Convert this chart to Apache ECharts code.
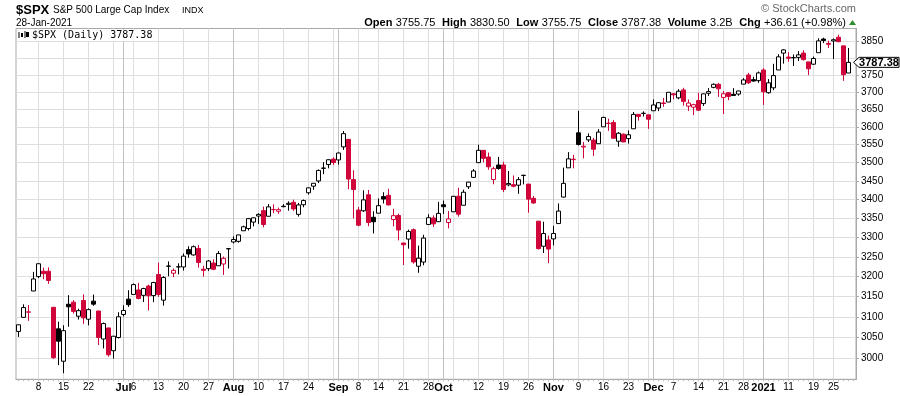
<!DOCTYPE html>
<html><head><meta charset="utf-8">
<script src="https://cdn.jsdelivr.net/npm/echarts@6/dist/echarts.min.js"></script>
<style>html,body{margin:0;padding:0;background:#fff}#c{width:900px;height:396px}</style>
</head><body><div id="c"></div>
<script>
const dates = [
'2020-06-02','2020-06-03','2020-06-04','2020-06-05','2020-06-08','2020-06-09','2020-06-10','2020-06-11','2020-06-12','2020-06-15','2020-06-16','2020-06-17','2020-06-18','2020-06-19','2020-06-22','2020-06-23','2020-06-24','2020-06-25','2020-06-26','2020-06-29','2020-06-30',
'2020-07-01','2020-07-02','2020-07-06','2020-07-07','2020-07-08','2020-07-09','2020-07-10','2020-07-13','2020-07-14','2020-07-15','2020-07-16','2020-07-17','2020-07-20','2020-07-21','2020-07-22','2020-07-23','2020-07-24','2020-07-27','2020-07-28','2020-07-29','2020-07-30','2020-07-31',
'2020-08-03','2020-08-04','2020-08-05','2020-08-06','2020-08-07','2020-08-10','2020-08-11','2020-08-12','2020-08-13','2020-08-14','2020-08-17','2020-08-18','2020-08-19','2020-08-20','2020-08-21','2020-08-24','2020-08-25','2020-08-26','2020-08-27','2020-08-28','2020-08-31',
'2020-09-01','2020-09-02','2020-09-03','2020-09-04','2020-09-08','2020-09-09','2020-09-10','2020-09-11','2020-09-14','2020-09-15','2020-09-16','2020-09-17','2020-09-18','2020-09-21','2020-09-22','2020-09-23','2020-09-24','2020-09-25','2020-09-28','2020-09-29','2020-09-30',
'2020-10-01','2020-10-02','2020-10-05','2020-10-06','2020-10-07','2020-10-08','2020-10-09','2020-10-12','2020-10-13','2020-10-14','2020-10-15','2020-10-16','2020-10-19','2020-10-20','2020-10-21','2020-10-22','2020-10-23','2020-10-26','2020-10-27','2020-10-28','2020-10-29','2020-10-30',
'2020-11-02','2020-11-03','2020-11-04','2020-11-05','2020-11-06','2020-11-09','2020-11-10','2020-11-11','2020-11-12','2020-11-13','2020-11-16','2020-11-17','2020-11-18','2020-11-19','2020-11-20','2020-11-23','2020-11-24','2020-11-25','2020-11-27','2020-11-30',
'2020-12-01','2020-12-02','2020-12-03','2020-12-04','2020-12-07','2020-12-08','2020-12-09','2020-12-10','2020-12-11','2020-12-14','2020-12-15','2020-12-16','2020-12-17','2020-12-18','2020-12-21','2020-12-22','2020-12-23','2020-12-24','2020-12-28','2020-12-29','2020-12-30','2020-12-31',
'2021-01-04','2021-01-05','2021-01-06','2021-01-07','2021-01-08','2021-01-11','2021-01-12','2021-01-13','2021-01-14','2021-01-15','2021-01-19','2021-01-20','2021-01-21','2021-01-22','2021-01-25','2021-01-26','2021-01-27','2021-01-28'
];
const opens = [
3064.78,3098.90,3111.56,3163.84,3199.92,3213.32,3213.42,3123.53,3071.04,2993.76,3131.00,3136.13,3101.64,3140.29,3094.42,3138.70,3114.40,3046.60,3073.20,3018.59,3050.20,
3105.92,3143.64,3155.29,3166.44,3153.07,3176.17,3152.47,3205.08,3141.11,3225.98,3208.36,3224.21,3224.29,3268.52,3254.86,3271.64,3218.58,3219.84,3234.27,3227.22,3231.76,3270.45,
3288.26,3289.92,3317.37,3323.17,3340.05,3356.04,3370.34,3355.46,3372.95,3368.66,3380.86,3387.04,3392.51,3360.48,3386.01,3418.09,3435.95,3449.97,3485.14,3494.69,3509.73,
3507.44,3543.76,3564.74,3453.60,3371.88,3369.82,3412.56,3352.70,3363.56,3407.73,3411.23,3346.86,3357.38,3285.57,3295.75,3320.11,3226.14,3236.66,3333.90,3350.92,3341.21,
3385.87,3338.94,3367.27,3408.74,3384.56,3434.28,3459.67,3500.02,3534.01,3515.47,3453.72,3493.50,3493.66,3439.38,3439.91,3438.50,3464.90,3441.42,3403.15,3342.48,3277.17,3293.59,
3296.20,3336.25,3406.46,3485.74,3508.34,3583.04,3543.26,3563.22,3562.67,3552.57,3600.16,3610.31,3612.09,3559.41,3579.31,3566.82,3594.52,3635.50,3638.55,3634.18,
3645.87,3653.78,3668.28,3670.94,3694.73,3683.05,3705.98,3659.13,3656.08,3675.27,3666.41,3696.25,3713.65,3722.39,3684.28,3698.08,3693.42,3694.03,3723.03,3750.01,3736.19,3733.27,
3764.61,3698.02,3712.20,3764.71,3815.05,3803.14,3801.62,3802.23,3814.98,3788.73,3781.88,3816.22,3857.46,3844.24,3851.68,3862.96,3836.83,3755.75
];
const highs = [
3081.07,3130.94,3128.91,3211.72,3233.13,3222.71,3223.27,3123.53,3088.42,3079.76,3153.45,3141.16,3120.00,3155.53,3120.92,3154.90,3115.01,3086.25,3073.73,3053.89,3111.51,
3128.44,3165.81,3182.59,3184.15,3171.80,3179.78,3186.82,3235.32,3200.95,3238.28,3220.39,3233.52,3258.61,3277.29,3279.32,3279.99,3227.26,3241.43,3243.72,3264.74,3250.92,3272.17,
3302.73,3306.84,3330.77,3351.03,3352.54,3363.29,3381.01,3387.89,3387.24,3378.51,3387.59,3395.06,3399.54,3390.80,3399.96,3432.09,3444.21,3481.07,3501.38,3509.23,3514.77,
3528.03,3588.11,3564.85,3479.15,3379.97,3424.77,3425.55,3368.95,3402.93,3419.48,3428.92,3375.17,3362.27,3285.57,3320.31,3323.35,3278.70,3306.88,3360.74,3357.92,3393.56,
3397.18,3369.10,3409.57,3431.56,3426.26,3447.28,3482.34,3549.85,3534.01,3527.94,3489.08,3515.76,3502.42,3476.93,3464.86,3460.53,3466.46,3441.42,3409.51,3342.48,3341.05,3304.93,
3330.14,3389.49,3486.25,3529.05,3521.58,3645.99,3557.22,3581.16,3569.02,3593.66,3628.51,3623.11,3619.09,3585.22,3581.23,3589.81,3642.31,3635.50,3644.31,3634.18,
3678.45,3670.96,3682.73,3699.20,3697.41,3708.45,3712.39,3678.49,3665.91,3697.61,3695.29,3711.27,3725.12,3726.70,3702.90,3698.26,3711.24,3703.82,3740.51,3756.12,3744.63,3760.20,
3769.99,3737.83,3783.04,3811.55,3826.69,3817.86,3810.78,3820.96,3823.60,3788.73,3804.53,3859.75,3861.45,3852.31,3859.23,3870.90,3836.83,3830.50
];
const lows = [
3051.64,3098.90,3090.41,3163.84,3196.00,3193.11,3181.49,2999.49,2984.47,2965.66,3076.06,3108.03,3093.51,3083.11,3079.39,3127.12,3032.13,3024.01,3004.63,2999.74,3047.83,
3101.17,3124.52,3155.29,3142.93,3136.53,3115.70,3136.22,3149.43,3127.66,3200.76,3198.59,3205.65,3215.16,3247.77,3253.10,3222.66,3200.05,3214.25,3216.17,3227.22,3204.13,3220.26,
3284.53,3286.37,3317.37,3318.14,3328.72,3335.44,3326.44,3355.46,3363.35,3361.64,3379.22,3370.15,3369.66,3354.69,3379.31,3413.13,3425.84,3444.15,3468.35,3484.32,3493.25,
3494.60,3535.23,3427.41,3349.63,3329.27,3366.84,3329.25,3310.47,3363.56,3389.25,3384.45,3328.82,3292.40,3229.10,3270.95,3232.57,3209.45,3228.44,3332.91,3327.54,3340.47,
3361.39,3323.69,3367.27,3354.54,3384.56,3428.15,3458.07,3499.61,3500.86,3480.55,3440.89,3480.45,3419.93,3435.65,3433.06,3415.34,3440.45,3364.86,3388.71,3268.89,3259.82,3233.94,
3279.74,3336.25,3405.17,3485.74,3484.34,3547.48,3511.91,3557.00,3518.58,3552.57,3600.16,3588.68,3567.33,3543.84,3556.85,3552.77,3594.52,3617.76,3629.33,3594.39,
3645.87,3644.84,3657.17,3670.94,3678.88,3678.83,3660.54,3645.18,3633.40,3645.84,3659.62,3688.57,3710.87,3685.84,3636.48,3676.16,3689.28,3689.32,3723.03,3723.31,3730.21,3726.88,
3662.71,3695.07,3705.34,3764.71,3783.60,3789.02,3776.51,3791.50,3792.86,3749.62,3780.37,3816.22,3845.05,3830.41,3797.16,3847.78,3732.48,3755.75
];
const closes = [
3080.82,3122.87,3112.35,3193.93,3232.39,3207.18,3190.14,3002.10,3041.31,3066.59,3124.74,3113.49,3115.34,3097.74,3117.86,3131.29,3050.33,3083.76,3009.05,3053.24,3100.29,
3115.86,3130.01,3179.72,3145.32,3169.94,3152.05,3185.04,3155.22,3197.52,3226.56,3215.57,3224.73,3251.84,3257.30,3276.02,3235.66,3215.63,3239.41,3218.44,3258.44,3246.22,3271.12,
3294.61,3306.51,3327.77,3349.16,3351.28,3360.47,3333.69,3380.35,3373.43,3372.85,3381.99,3389.78,3374.85,3385.51,3397.16,3431.28,3443.62,3478.73,3484.55,3508.01,3500.31,
3526.65,3580.84,3455.06,3426.96,3331.84,3398.96,3339.19,3340.97,3383.54,3401.20,3385.49,3357.01,3319.47,3281.06,3315.57,3236.92,3246.59,3298.46,3351.60,3335.47,3363.00,
3380.80,3348.42,3408.60,3360.97,3419.44,3446.83,3477.14,3534.22,3511.93,3488.67,3483.34,3483.81,3426.92,3443.12,3435.56,3453.49,3465.39,3400.97,3390.68,3271.03,3310.11,3269.96,
3310.24,3369.16,3443.44,3510.45,3509.44,3550.50,3545.53,3572.66,3537.01,3585.15,3626.91,3609.53,3567.79,3581.87,3557.54,3577.59,3635.41,3629.65,3638.35,3621.63,
3662.45,3669.01,3666.72,3699.12,3691.96,3702.25,3672.82,3668.10,3663.46,3647.49,3694.62,3701.17,3722.48,3709.41,3694.92,3687.26,3690.01,3703.06,3735.36,3727.04,3732.04,3756.07,
3700.65,3726.86,3748.14,3803.79,3824.68,3799.61,3801.19,3809.84,3795.54,3768.25,3798.91,3851.85,3853.07,3841.47,3855.36,3849.62,3750.77,3787.38
];
const closeBeforeStart = 3055.73;

const weekLineDates = ['2020-06-08','2020-06-15','2020-06-22','2020-06-29','2020-07-06','2020-07-13','2020-07-20','2020-07-27','2020-08-10','2020-08-17','2020-08-24','2020-08-31','2020-09-08','2020-09-14','2020-09-21','2020-09-28','2020-10-05','2020-10-12','2020-10-19','2020-10-26','2020-11-09','2020-11-16','2020-11-23','2020-11-30','2020-12-07','2020-12-14','2020-12-21','2020-12-28','2021-01-11','2021-01-19','2021-01-25'];
const monthLineDates = ['2020-07-01','2020-08-03','2020-09-01','2020-10-01','2020-11-02','2020-12-01','2021-01-04'];
const tickLabelDates = ['2020-06-08','2020-06-15','2020-06-22','2020-07-01','2020-07-06','2020-07-13','2020-07-20','2020-07-27','2020-08-03','2020-08-10','2020-08-17','2020-08-24','2020-09-01','2020-09-08','2020-09-14','2020-09-21','2020-09-28','2020-10-01','2020-10-12','2020-10-19','2020-10-26','2020-11-02','2020-11-09','2020-11-16','2020-11-23','2020-12-01','2020-12-07','2020-12-14','2020-12-21','2020-12-28','2021-01-04','2021-01-11','2021-01-19','2021-01-25'];
const tickLabelTexts = ['8','15','22','Jul','6','13','20','27','Aug','10','17','24','Sep','8','14','21','28','Oct','12','19','26','Nov','9','16','23','Dec','7','14','21','28','2021','11','19','25'];
const yTicks = [3000,3050,3100,3150,3200,3250,3300,3350,3400,3450,3500,3550,3600,3650,3700,3750,3800,3850];

const symbol = '$SPX';
const indexName = 'S&P 500 Large Cap Index';
const exchange = 'INDX';
const dateText = '28-Jan-2021';
const volumeText = '3.2B';

const RED = '#d0063a', BLACK = '#000000';
const FONT = 'Liberation Sans, Arial, sans-serif';

const labelMap = new Map(tickLabelDates.map((d, i) => [d, tickLabelTexts[i]]));
const weekSet = new Set(weekLineDates);
const monthSet = new Set(monthLineDates);
const cats = dates.concat(['']);

const candleData = dates.map((d, i) => {
  const o = opens[i], c = closes[i], l = lows[i], h = highs[i];
  const prev = i > 0 ? closes[i - 1] : closeBeforeStart;
  const col = c < prev ? RED : BLACK;
  const fill = c >= o ? '#ffffff' : col;
  return { value: [o, c, l, h], itemStyle: { color: fill, color0: fill, borderColor: col, borderColor0: col, borderColorDoji: col } };
});

const chart = echarts.init(document.getElementById('c'), null, { renderer: 'canvas' });
const yLabelStyle = { fontSize: 10, color: '#000', margin: 5, fontFamily: FONT, formatter: v => String(Math.round(v)) };
chart.setOption({
  animation: false,
  backgroundColor: '#ffffff',
  grid: { left: 16, right: 44, top: 28.5, bottom: 16.7, show: true, borderColor: '#a9a9a9', borderWidth: 1 },
  xAxis: [{
    type: 'category', data: cats, boundaryGap: true,
    axisLine: { show: true, lineStyle: { color: '#a9a9a9' } },
    axisTick: { show: true, interval: 0, alignWithLabel: true, length: 2, lineStyle: { color: '#bdbdbd' } },
    axisLabel: {
      interval: (i, v) => labelMap.has(v),
      formatter: v => { const t = labelMap.get(v) || ''; return monthSet.has(v) ? '{m|' + t + '}' : t; },
      margin: 3, fontSize: 10, color: '#000', fontFamily: FONT,
      rich: { m: { fontWeight: 'bold', fontSize: 11, color: '#000', fontFamily: FONT } }
    },
    splitLine: { show: true, interval: (i, v) => weekSet.has(v), alignWithLabel: true, lineStyle: { color: '#dedede', width: 1 } }
  }, {
    type: 'category', data: cats, boundaryGap: true, position: 'bottom',
    axisLine: { show: false }, axisTick: { show: false }, axisLabel: { show: false },
    splitLine: { show: true, interval: (i, v) => monthSet.has(v), alignWithLabel: true, lineStyle: { color: '#c2c2c2', width: 1 } }
  }],
  yAxis: {
    type: 'log', logBase: 10, position: 'right', min: 2951.5, max: 3889.6,
    axisLine: { show: true, lineStyle: { color: '#a9a9a9' } },
    axisTick: { show: true, customValues: yTicks, length: 3, lineStyle: { color: '#a9a9a9' } },
    axisLabel: Object.assign({ customValues: yTicks }, yLabelStyle),
    splitLine: { show: true, lineStyle: { color: '#dedede', width: 1 } },
    minorTick: { show: false }
  },
  series: [{
    type: 'candlestick', xAxisIndex: 0, yAxisIndex: 0,
    barWidth: 4,
    data: candleData,
    itemStyle: { borderWidth: 1 }
  }]
});

const n = closes.length - 1;
const lastClose = closes[n];
const chg = closes[n] - closes[n - 1];
const pct = chg / closes[n - 1] * 100;
const yc = chart.convertToPixel({ yAxisIndex: 0 }, lastClose);
const tagX = 853.5;
// hide axis labels that sit under the last-price tag
const shownYLabels = yTicks.filter(v => Math.abs(chart.convertToPixel({ yAxisIndex: 0 }, v) - yc) > 9);

const headerRight = '{b|Open} {n|' + opens[n].toFixed(2) + '}  {b|High} {n|' + highs[n].toFixed(2) + '}  {b|Low} {n|' + lows[n].toFixed(2) +
  '}  {b|Close} {n|' + closes[n].toFixed(2) + '}  {b|Volume} {n|' + volumeText + '}  {b|Chg} {n|' + (chg >= 0 ? '+' : '') + chg.toFixed(2) +
  ' (' + (pct >= 0 ? '+' : '') + pct.toFixed(2) + '%)}';

chart.setOption({
  yAxis: { axisLabel: Object.assign({ customValues: shownYLabels }, yLabelStyle) },
  graphic: [
    { type: 'text', x: 16, y: 10, style: { text: symbol, font: 'bold 13px ' + FONT, fill: '#000', verticalAlign: 'middle' } },
    { type: 'text', x: 53, y: 10.5, style: { text: indexName, font: '10px ' + FONT, fill: '#000', verticalAlign: 'middle' } },
    { type: 'text', x: 182, y: 10.5, style: { text: exchange, font: '9px ' + FONT, fill: '#000', verticalAlign: 'middle' } },
    { type: 'text', x: 16, y: 23.5, style: { text: dateText, font: '10px ' + FONT, fill: '#000', verticalAlign: 'middle' } },
    { type: 'text', x: 856, y: 9, style: { text: '\u00A9 StockCharts.com', font: '11px ' + FONT, fill: '#666', align: 'right', verticalAlign: 'middle' } },
    { type: 'text', x: 846, y: 22.5, style: { text: headerRight, align: 'right', verticalAlign: 'middle',
      rich: { b: { fontWeight: 'bold', fontSize: 11, fontFamily: FONT, fill: '#000' }, n: { fontSize: 11, fontFamily: FONT, fill: '#000' } } } },
    { type: 'polygon', shape: { points: [[849, 25], [856, 25], [852.5, 20]] }, style: { fill: '#2e8b2e' } },
    { type: 'rect', shape: { x: 17, y: 30, width: 136, height: 11 }, style: { fill: '#fff' }, z: 10 },
    { type: 'polyline', shape: { points: [[19, 32], [19, 38]] }, style: { stroke: '#000', lineWidth: 1 }, z: 11 },
    { type: 'rect', shape: { x: 21, y: 33, width: 2, height: 4 }, style: { fill: '#000' }, z: 11 },
    { type: 'polyline', shape: { points: [[25, 31], [25, 38]] }, style: { stroke: '#000', lineWidth: 1 }, z: 11 },
    { type: 'rect', shape: { x: 26, y: 32, width: 3, height: 5 }, style: { fill: '#000' }, z: 11 },
    { type: 'text', x: 32, y: 35.5, z: 11, style: { text: symbol + ' (Daily) ' + lastClose.toFixed(2), font: '10px DejaVu Sans Mono, monospace', fill: '#000', verticalAlign: 'middle' } },
    { type: 'polygon', z: 20, shape: { points: [[tagX, yc], [tagX + 5.5, yc - 5], [899, yc - 5], [899, yc + 5], [tagX + 5.5, yc + 5]] }, style: { fill: '#fff', stroke: '#000', lineWidth: 1 } },
    { type: 'text', z: 21, x: 879, y: yc + 0.5, style: { text: lastClose.toFixed(2), font: 'bold 11px ' + FONT, fill: '#000', align: 'center', verticalAlign: 'middle' } }
  ]
});
</script>
</body></html>
